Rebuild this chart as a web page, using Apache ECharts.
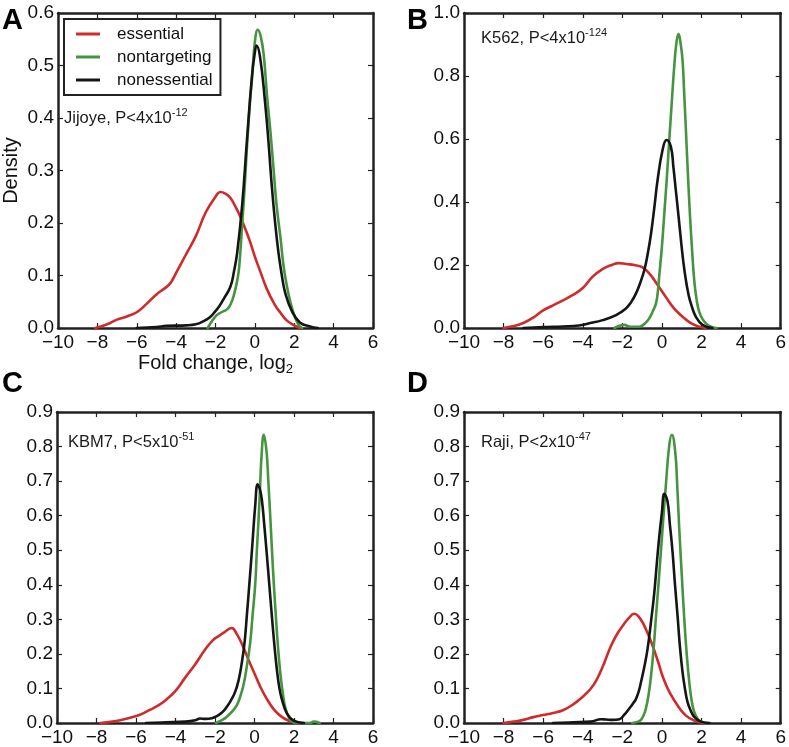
<!DOCTYPE html>
<html>
<head>
<meta charset="utf-8">
<script src="https://cdn.jsdelivr.net/npm/echarts@6/dist/echarts.min.js"></script>
<style>
    html, body {margin: 0; padding: 0; background: #fff;}
    #chart {width: 789px; height: 747px;}
</style>
</head>
<body>
<div id="chart"></div>
<script>
// curve names, in drawing order
let curveNames = ['essential', 'nontargeting', 'nonessential'];
let panelLetters = ['A', 'B', 'C', 'D'];
let cellLines = ['Jijoye', 'K562', 'KBM7', 'Raji'];
let pMantissa = ['4', '4', '5', '2'];
let pExponent = ['-12', '-124', '-51', '-47'];
let yMaxes = [0.6, 1.0, 0.9, 0.9];
let ySteps = [0.1, 0.2, 0.1, 0.1];
let xTicks = [-10, 6, 2]; // min, max, step

// density curves, [log2 fold change, density]
let jijoyeEssential = [[-8.1, 0], [-7.5, 0.007], [-7, 0.016], [-6.5, 0.022], [-6, 0.03], [-5.5, 0.046], [-5, 0.064], [-4.6, 0.075], [-4.3, 0.085], [-4, 0.105], [-3.5, 0.14], [-3, 0.175], [-2.5, 0.22], [-2, 0.25], [-1.75, 0.259], [-1.5, 0.256], [-1.25, 0.248], [-1, 0.232], [-0.75, 0.213], [-0.5, 0.19], [-0.25, 0.165], [0, 0.136], [0.3, 0.105], [0.6, 0.075], [1, 0.045], [1.3, 0.029], [1.6, 0.015], [2, 0.005], [2.3, 0]];
let jijoyeNontargeting = [[-2.4, 0], [-2.2, 0.012], [-1.95, 0.024], [-1.7, 0.03], [-1.4, 0.036], [-1.2, 0.048], [-1.05, 0.065], [-0.9, 0.09], [-0.8, 0.115], [-0.65, 0.194], [-0.5, 0.28], [-0.4, 0.346], [-0.25, 0.43], [-0.15, 0.473], [0, 0.545], [0.15, 0.568], [0.3, 0.555], [0.45, 0.52], [0.62, 0.441], [0.8, 0.37], [0.95, 0.302], [1.1, 0.235], [1.3, 0.172], [1.45, 0.12], [1.63, 0.079], [1.8, 0.05], [1.96, 0.029], [2.2, 0.007], [2.4, 0]];
let jijoyeNonessential = [[-6, 0], [-5, 0.002], [-4.5, 0.004], [-3.5, 0.005], [-3, 0.007], [-2.6, 0.013], [-2.3, 0.02], [-2.07, 0.029], [-1.8, 0.042], [-1.56, 0.057], [-1.24, 0.079], [-1.05, 0.11], [-0.9, 0.143], [-0.65, 0.232], [-0.4, 0.359], [-0.15, 0.479], [0, 0.525], [0.08, 0.538], [0.26, 0.517], [0.52, 0.429], [0.7, 0.35], [0.86, 0.27], [1.03, 0.2], [1.2, 0.143], [1.37, 0.1], [1.54, 0.067], [1.88, 0.032], [2.3, 0.01], [2.8, 0.003], [3.2, 0]];

let k562Essential = [[-8, 0], [-7.5, 0.006], [-7, 0.016], [-6.5, 0.033], [-6, 0.056], [-5.5, 0.072], [-5, 0.088], [-4.5, 0.105], [-4, 0.127], [-3.5, 0.163], [-3, 0.187], [-2.5, 0.201], [-2.2, 0.206], [-1.8, 0.203], [-1.4, 0.2], [-1, 0.193], [-0.6, 0.17], [-0.2, 0.135], [0.2, 0.098], [0.6, 0.063], [1, 0.038], [1.4, 0.018], [1.8, 0.006], [2.2, 0]];
let k562Nontargeting = [[-2.4, 0], [-2.1, 0.008], [-1.9, 0.01], [-1.6, 0.004], [-1.15, 0.004], [-0.85, 0.015], [-0.64, 0.031], [-0.45, 0.055], [-0.3, 0.078], [-0.2, 0.12], [-0.14, 0.163], [0, 0.26], [0.12, 0.364], [0.25, 0.48], [0.37, 0.597], [0.5, 0.72], [0.62, 0.83], [0.74, 0.91], [0.84, 0.933], [0.95, 0.9], [1.04, 0.851], [1.12, 0.75], [1.21, 0.629], [1.31, 0.49], [1.41, 0.364], [1.52, 0.25], [1.63, 0.152], [1.75, 0.09], [1.88, 0.052], [2.05, 0.028], [2.22, 0.015], [2.45, 0.005], [2.75, 0]];
let k562Nonessential = [[-7, 0], [-6, 0.003], [-5, 0.005], [-4.2, 0.008], [-3.67, 0.015], [-3, 0.025], [-2.32, 0.041], [-1.82, 0.062], [-1.55, 0.083], [-1.31, 0.11], [-1.1, 0.143], [-0.89, 0.184], [-0.72, 0.235], [-0.55, 0.3], [-0.38, 0.385], [-0.22, 0.47], [0.03, 0.565], [0.23, 0.597], [0.45, 0.576], [0.58, 0.51], [0.7, 0.438], [0.83, 0.36], [0.96, 0.279], [1.08, 0.21], [1.21, 0.152], [1.33, 0.11], [1.46, 0.078], [1.71, 0.036], [2.05, 0.01], [2.55, 0]];

let kbm7Essential = [[-7.8, 0], [-7.2, 0.004], [-6.8, 0.008], [-6.3, 0.015], [-5.8, 0.024], [-5.3, 0.038], [-4.9, 0.05], [-4.5, 0.066], [-4, 0.093], [-3.5, 0.132], [-3, 0.17], [-2.5, 0.213], [-2.1, 0.24], [-1.8, 0.252], [-1.5, 0.264], [-1.15, 0.275], [-0.9, 0.258], [-0.6, 0.224], [-0.3, 0.182], [0, 0.143], [0.3, 0.104], [0.6, 0.072], [1, 0.038], [1.4, 0.017], [1.8, 0.005], [2.1, 0]];
let kbm7Nontargeting = [[-1.95, 0], [-1.65, 0.008], [-1.4, 0.018], [-1.15, 0.032], [-0.9, 0.051], [-0.73, 0.075], [-0.56, 0.109], [-0.4, 0.16], [-0.22, 0.232], [-0.1, 0.31], [0.04, 0.404], [0.12, 0.5], [0.21, 0.594], [0.28, 0.68], [0.35, 0.766], [0.47, 0.834], [0.61, 0.785], [0.7, 0.7], [0.81, 0.585], [0.93, 0.45], [1.06, 0.328], [1.19, 0.22], [1.32, 0.137], [1.45, 0.08], [1.57, 0.042], [1.75, 0.015], [1.91, 0.004], [2.2, 0], [2.8, 0], [3, 0.004], [3.3, 0]];
let kbm7Nonessential = [[-5.5, 0], [-4.5, 0.002], [-3.5, 0.004], [-3, 0.008], [-2.76, 0.013], [-2.5, 0.012], [-2.16, 0.014], [-1.82, 0.023], [-1.6, 0.033], [-1.4, 0.047], [-1.2, 0.065], [-0.98, 0.09], [-0.8, 0.125], [-0.64, 0.175], [-0.5, 0.235], [-0.39, 0.309], [-0.25, 0.41], [-0.13, 0.499], [0.04, 0.632], [0.16, 0.691], [0.28, 0.675], [0.38, 0.642], [0.5, 0.57], [0.62, 0.49], [0.75, 0.4], [0.88, 0.309], [1.0, 0.23], [1.13, 0.156], [1.25, 0.105], [1.38, 0.07], [1.64, 0.028], [1.98, 0.007], [2.5, 0]];

let rajiEssential = [[-8, 0], [-7.5, 0.004], [-7, 0.009], [-6.5, 0.017], [-6, 0.023], [-5.5, 0.029], [-5, 0.037], [-4.5, 0.053], [-4, 0.076], [-3.6, 0.099], [-3.3, 0.125], [-3, 0.162], [-2.6, 0.22], [-2.3, 0.254], [-2, 0.28], [-1.7, 0.302], [-1.4, 0.316], [-1.1, 0.302], [-0.8, 0.27], [-0.5, 0.228], [-0.2, 0.178], [0.1, 0.125], [0.4, 0.087], [0.8, 0.05], [1.2, 0.022], [1.6, 0.008], [2.1, 0]];
let rajiNontargeting = [[-1.5, 0], [-1.2, 0.004], [-1.06, 0.009], [-0.93, 0.022], [-0.81, 0.042], [-0.68, 0.08], [-0.55, 0.137], [-0.42, 0.215], [-0.3, 0.309], [-0.17, 0.405], [-0.05, 0.499], [0.08, 0.6], [0.2, 0.69], [0.37, 0.804], [0.5, 0.834], [0.67, 0.785], [0.77, 0.69], [0.87, 0.566], [1.0, 0.43], [1.12, 0.309], [1.25, 0.2], [1.38, 0.118], [1.5, 0.065], [1.63, 0.032], [1.8, 0.012], [1.97, 0.004], [2.3, 0]];
let rajiNonessential = [[-5.5, 0], [-4.5, 0.002], [-3.6, 0.004], [-3.07, 0.011], [-2.82, 0.01], [-2.5, 0.009], [-2.15, 0.011], [-1.9, 0.024], [-1.65, 0.042], [-1.48, 0.055], [-1.31, 0.07], [-1.18, 0.09], [-1.06, 0.118], [-0.9, 0.16], [-0.73, 0.213], [-0.56, 0.29], [-0.39, 0.375], [-0.27, 0.455], [-0.14, 0.537], [0, 0.61], [0.12, 0.663], [0.28, 0.642], [0.4, 0.575], [0.53, 0.499], [0.66, 0.4], [0.79, 0.309], [0.91, 0.22], [1.04, 0.147], [1.16, 0.1], [1.29, 0.061], [1.46, 0.035], [1.63, 0.018], [1.97, 0.004], [2.4, 0]];

let panelCurves = [
    [jijoyeEssential, jijoyeNontargeting, jijoyeNonessential],
    [k562Essential, k562Nontargeting, k562Nonessential],
    [kbm7Essential, kbm7Nontargeting, kbm7Nonessential],
    [rajiEssential, rajiNontargeting, rajiNonessential]
];

let colors = ['#d12a2c', '#46943f', '#151515'];
let font = '"Liberation Sans", Arial, Helvetica, sans-serif';
let ink = '#222';

let grids = [
    {left: 57, top: 13, width: 316, height: 315},
    {left: 464, top: 13, width: 318, height: 315},
    {left: 57, top: 412, width: 316, height: 315},
    {left: 464, top: 412, width: 318, height: 315}
];
// letter and annotation positions per panel
let letterPos = [[2, 6], [407, 6], [2, 369], [407, 369]];
let notePos = [[64, 107], [481, 27], [68, 431], [481, 431]];

let minusFmt = (v) => {
    return v < 0 ? '\u2212' + Math.abs(v) : String(v);
};

let xAxes = [];
let yAxes = [];
let series = [];
let titles = [];
let graphics = [];

grids.forEach((g, i) => {
    ['bottom', 'top'].forEach((pos) => {
        let ax = {
            type: 'value',
            gridIndex: i,
            position: pos,
            min: xTicks[0],
            max: xTicks[1],
            interval: xTicks[2],
            axisLine: {show: true, onZero: false, lineStyle: {color: ink, width: 2.5}},
            axisTick: {show: true, inside: true, length: 5, lineStyle: {color: ink, width: 1.2}},
            axisLabel: {
                show: pos === 'bottom',
                margin: 5,
                fontSize: 19,
                color: '#111',
                fontFamily: font,
                formatter: minusFmt
            },
            splitLine: {show: false}
        };
        if (i === 0 && pos === 'bottom') {
            ax.name = '{t|Fold change, log}{s|2}';
            ax.nameLocation = 'middle';
            ax.nameGap = 22;
            ax.nameTextStyle = {
                color: '#111',
                fontFamily: font,
                rich: {
                    t: {fontSize: 20, lineHeight: 26, fontFamily: font, color: '#111'},
                    s: {fontSize: 13, lineHeight: 26, verticalAlign: 'bottom', fontFamily: font, color: '#111'}
                }
            };
        }
        xAxes.push(ax);
    });
    ['left', 'right'].forEach((pos) => {
        let ay = {
            type: 'value',
            gridIndex: i,
            position: pos,
            min: 0,
            max: yMaxes[i],
            interval: ySteps[i],
            axisLine: {show: true, onZero: false, lineStyle: {color: ink, width: 2.5}},
            axisTick: {show: true, inside: true, length: 5, lineStyle: {color: ink, width: 1.2}},
            axisLabel: {
                show: pos === 'left',
                margin: 4,
                fontSize: 19,
                color: '#111',
                fontFamily: font,
                formatter: (v) => v.toFixed(1)
            },
            splitLine: {show: false}
        };
        if (i === 0 && pos === 'left') {
            ay.name = 'Density';
            ay.nameLocation = 'middle';
            ay.nameGap = 37;
            ay.nameTextStyle = {fontSize: 20, color: '#111', fontFamily: font};
        }
        yAxes.push(ay);
    });

    panelCurves[i].forEach((data, j) => {
        series.push({
            name: curveNames[j],
            type: 'line',
            xAxisIndex: i * 2,
            yAxisIndex: i * 2,
            data: data,
            showSymbol: false,
            smooth: 0.45,
            lineStyle: {color: colors[j], width: 2.6, join: 'round', cap: 'round'},
            itemStyle: {color: colors[j]},
            z: 2 + j
        });
    });

    titles.push({
        left: notePos[i][0],
        top: notePos[i][1],
        padding: 0,
        text: '{t|' + cellLines[i] + ', P<' + pMantissa[i] + 'x10}{s|' + pExponent[i] + '}',
        textStyle: {
            fontWeight: 'normal',
            rich: {
                t: {fontSize: 16.5, lineHeight: 22, fontWeight: 'normal', fontFamily: font, color: '#1a1a1a'},
                s: {fontSize: 11, lineHeight: 22, fontWeight: 'normal', verticalAlign: 'top', fontFamily: font, color: '#1a1a1a'}
            }
        }
    });

    graphics.push({
        type: 'text',
        left: letterPos[i][0],
        top: letterPos[i][1],
        style: {
            text: panelLetters[i],
            font: 'bold 29px ' + font,
            fill: '#000'
        }
    });
});

let option = {
    animation: false,
    backgroundColor: '#fff',
    textStyle: {fontFamily: font},
    grid: grids,
    xAxis: xAxes,
    yAxis: yAxes,
    title: titles,
    graphic: graphics,
    legend: {
        show: true,
        orient: 'vertical',
        left: 64,
        top: 19,
        data: curveNames,
        icon: 'rect',
        itemWidth: 24,
        itemHeight: 3,
        itemGap: 5,
        padding: [6, 8, 6, 12],
        borderColor: ink,
        borderWidth: 2,
        backgroundColor: '#fff',
        textStyle: {fontSize: 17, color: '#111', fontFamily: font, lineHeight: 18, padding: [0, 0, 0, 12]}
    },
    series: series
};

let chart = echarts.init(document.getElementById('chart'), null, {renderer: 'canvas'});
chart.setOption(option);
</script>
</body>
</html>
